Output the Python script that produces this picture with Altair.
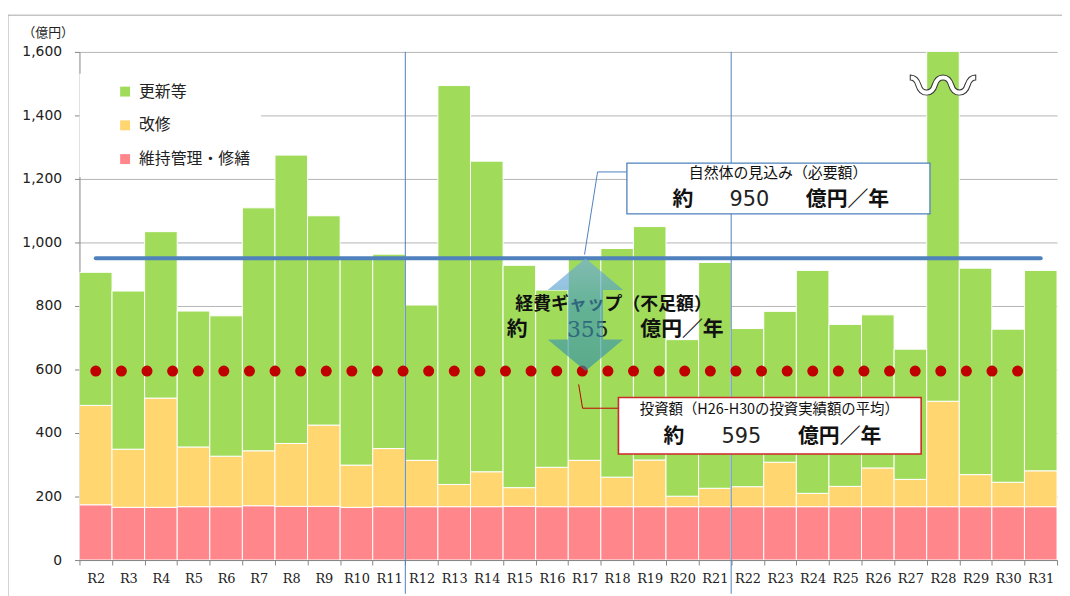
import altair as alt
import pandas as pd

# ---------------- data ----------------
years = ["R2", "R3", "R4", "R5", "R6", "R7", "R8", "R9", "R10", "R11",
         "R12", "R13", "R14", "R15", "R16", "R17", "R18", "R19", "R20", "R21",
         "R22", "R23", "R24", "R25", "R26", "R27", "R28", "R29", "R30", "R31"]

# 維持管理・修繕 (bottom, pink)
maint = [174, 166, 166, 168, 168, 171, 169, 169, 166, 168,
         168, 168, 168, 169, 168, 168, 168, 168, 168, 168,
         168, 168, 168, 168, 168, 168, 168, 168, 168, 168]
# 改修 (middle, yellow)
repair = [313, 183, 344, 188, 159, 173, 198, 256, 133, 183,
          146, 70, 110, 59, 124, 146, 93, 147, 33, 58,
          63, 140, 42, 64, 122, 86, 332, 101, 77, 113]
# 更新等 (top, green)
renew = [419, 498, 524, 428, 442, 765, 908, 659, 649, 612,
         489, 1256, 978, 700, 558, 636, 720, 735, 493, 711,
         498, 475, 702, 510, 482, 410, 1250, 650, 482, 631]

series_names = ["更新等", "改修", "維持管理・修繕"]
series_colors = ["#A0DC5A", "#FFD66F", "#FF868A"]

required_level = 950   # 自然体の見込み（必要額）
invest_level = 595     # 投資額
gap_value = 355        # 経費ギャップ

y_ticks = [0, 200, 400, 600, 800, 1000, 1200, 1400, 1600]

# ---------------- styling constants ----------------
JP = "Noto Sans CJK JP"
BLUE = "#4F81BD"
RED = "#C00000"
W, H = 985, 512

rows = []
for i, yr in enumerate(years):
    rows.append({"year": yr, "cat": "維持管理・修繕", "value": maint[i], "ord": 0})
    rows.append({"year": yr, "cat": "改修", "value": repair[i], "ord": 1})
    rows.append({"year": yr, "cat": "更新等", "value": renew[i], "ord": 2})
df = pd.DataFrame(rows)

n = len(years)
xq = alt.Scale(domain=[0, n], nice=False, zero=False)
ys = alt.Scale(domain=[0, 1600], nice=False)

y_axis = alt.Axis(values=y_ticks, labelExpr="format(datum.value, ',')", title="（億円）",
                  titleAngle=0, titleX=-58, titleY=-20,
                  titleAlign="left", titleBaseline="middle",
                  titleFont=JP, titleFontSize=13, titleFontWeight="normal",
                  titleColor="#222222",
                  labelFont="DejaVu Sans", labelFontSize=14,
                  labelColor="#222222", labelPadding=13, tickSize=5,
                  domainColor="#868686", tickColor="#868686",
                  grid=True, gridColor="#B4B4B4")


def QX(field):
    return alt.X(field, type="quantitative", scale=xq, axis=None)


def QY(field):
    return alt.Y(field, type="quantitative", scale=ys, axis=y_axis)


bars = alt.Chart(df).mark_bar(stroke="white", strokeWidth=1, clip=True).encode(
    x=alt.X("year:N", sort=years,
            scale=alt.Scale(paddingInner=0, paddingOuter=0),
            axis=alt.Axis(title=None, labelAngle=0, tickBand="extent",
                          labelFont="DejaVu Serif", labelFontSize=13,
                          labelColor="#222222", labelPadding=8, tickSize=5,
                          domainColor="#868686", tickColor="#868686", grid=False)),
    y=alt.Y("value:Q", stack="zero", scale=ys, axis=y_axis),
    color=alt.Color("cat:N", scale=alt.Scale(domain=series_names, range=series_colors),
                    legend=alt.Legend(title=None, orient="none", legendX=0, legendY=22,
                                      symbolType="square", symbolSize=100,
                                      symbolStrokeWidth=0, labelFont=JP,
                                      labelFontSize=16, labelColor="#222222",
                                      rowPadding=18, fillColor="white", padding=10,
                                      symbolOffset=28, labelOffset=6)),
    order=alt.Order("ord:Q"),
)

# frame round the whole picture
frame = alt.Chart(pd.DataFrame({"a": [0]})).mark_rect(
    fillOpacity=0, stroke="#A6A6A6", strokeWidth=1).encode(
    x=alt.value(-72), x2=alt.value(995), y=alt.value(-37), y2=alt.value(560))

# vertical separators (between R11/R12 and R21/R22)
sep = alt.Chart(pd.DataFrame({"x": [10, 20]})).mark_rule(
    color=BLUE, strokeWidth=1).encode(x=QX("x"), y=alt.value(0), y2=alt.value(H + 34))

# required level line
req = alt.Chart(pd.DataFrame({"x": [0.5], "x2": [n - 0.5], "y": [required_level]})).mark_rule(
    color=BLUE, strokeWidth=4, strokeCap="round").encode(x=QX("x"), x2="x2", y=QY("y"))

# investment level dotted line
inv = alt.Chart(pd.DataFrame({"x": [0.5], "x2": [n - 0.5], "y": [invest_level]})).mark_rule(
    color=RED, strokeWidth=11, strokeCap="round", strokeDash=[0.1, 25.7]).encode(
    x=QX("x"), x2="x2", y=QY("y"))


def label(text, x, y, size, bold=False, font=JP, color="#111111"):
    return alt.Chart(pd.DataFrame({"x": [x], "y": [y], "t": [text]})).mark_text(
        font=font, fontSize=size, fontWeight="bold" if bold else "normal",
        color=color, baseline="middle", align="center").encode(
        x=QX("x"), y=QY("y"), text="t:N")


gap_texts = [
    label("経費ギャップ（不足額）", 16.39, 803, 18, bold=True),
    label("約", 13.43, 725, 21, bold=True),
    label(str(gap_value), 15.6, 725, 22, font="DejaVu Serif", color="#222222"),
    label("億円／年", 18.49, 725, 21, bold=True),
]

arrow_path = ("M0,-1 L0.67,-0.44 L0.31,-0.44 L0.31,0.44 L0.67,0.44 L0,1 "
              "L-0.67,0.44 L-0.31,0.44 L-0.31,-0.44 L-0.67,-0.44 Z")
arrow_grad = alt.Gradient(
    gradient="linear", x1=0, y1=0, x2=0, y2=1,
    stops=[alt.GradientStop(color="#6FA8E8", offset=0),
           alt.GradientStop(color="#3E98B8", offset=0.45),
           alt.GradientStop(color="#2E8CA8", offset=1)])
arrow = alt.Chart(pd.DataFrame({"x": [15.53], "y": [(required_level + invest_level) / 2]})).mark_point(
    shape=arrow_path, size=(gap_value * H / 1600) ** 2, filled=True, fill=arrow_grad,
    opacity=0.62, strokeWidth=0).encode(x=QX("x"), y=QY("y"))

# leader lines
lead_df_b = pd.DataFrame({"x": [16.8, 15.9, 15.5], "y": [1222, 1222, 962], "o": [0, 1, 2]})
lead_b = alt.Chart(lead_df_b).mark_line(color=BLUE, strokeWidth=1).encode(
    x=QX("x"), y=QY("y"), order="o:Q")
lead_df_r = pd.DataFrame({"x": [16.54, 15.44, 15.32], "y": [478, 478, 553], "o": [0, 1, 2]})
lead_r = alt.Chart(lead_df_r).mark_line(color=RED, strokeWidth=1).encode(
    x=QX("x"), y=QY("y"), order="o:Q")

# boxes
box_b = alt.Chart(pd.DataFrame({"x": [16.8], "x2": [26.1], "y": [1090], "y2": [1250]})).mark_rect(
    fill="white", stroke=BLUE, strokeWidth=1.3).encode(x=QX("x"), x2="x2", y=QY("y"), y2="y2")
box_r = alt.Chart(pd.DataFrame({"x": [16.54], "x2": [25.83], "y": [334], "y2": [512]})).mark_rect(
    fill="white", stroke="#CC2A2A", strokeWidth=1.6).encode(x=QX("x"), x2="x2", y=QY("y"), y2="y2")

box_texts = [
    label("自然体の見込み（必要額）", 21.44, 1218, 15),
    label("約", 18.52, 1135, 21, bold=True),
    label(str(required_level), 20.56, 1135, 21, font="DejaVu Sans", color="#222222"),
    label("億円／年", 23.57, 1135, 21, bold=True),
    label("投資額（H26-H30の投資実績額の平均）", 21.17, 471, 14.5),
    label("約", 18.24, 386, 21, bold=True),
    label(str(invest_level), 20.31, 386, 21, font="DejaVu Sans", color="#222222"),
    label("億円／年", 23.33, 386, 21, bold=True),
]

# break mark on the R28 bar
wave = alt.Chart(pd.DataFrame({"x": [26.5], "y": [1480], "t": ["〰"]})).mark_text(
    font=JP, fontSize=66, fontWeight="bold", fill="white", stroke="#333333", strokeWidth=1,
    baseline="middle", align="center").encode(x=QX("x"), y=QY("y"), text="t:N")

chart = alt.layer(
    bars, frame, sep, req, inv, *gap_texts, arrow, lead_b, lead_r, box_b, box_r,
    *box_texts, wave
).resolve_scale(x="independent").properties(
    width=W, height=H,
    padding={"left": 72, "top": 42, "right": 5, "bottom": 34},
    autosize=alt.AutoSizeParams(type="none"),
    background="white",
).configure_view(stroke=None)

chart.save("out.html", embed_options={"renderer": "svg", "actions": False})
